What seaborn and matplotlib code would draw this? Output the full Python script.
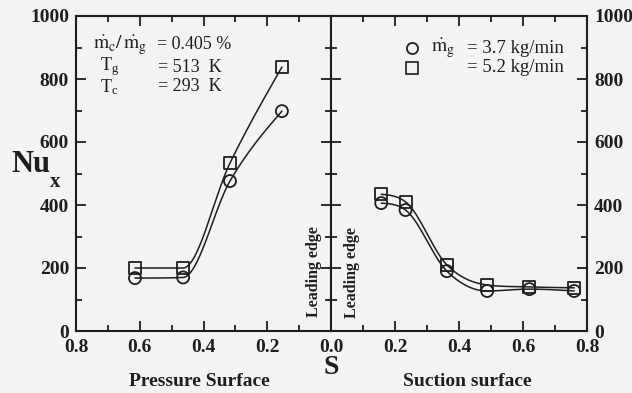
import numpy as np
import pandas as pd
import seaborn as sns
import matplotlib.pyplot as plt
from matplotlib.ticker import MultipleLocator

# Pressure surface (left panel), S distance from leading edge
s_pressure = [0.615, 0.464, 0.317, 0.154]
nu_p_37 = [168, 170, 476, 698]
nu_p_52 = [200, 200, 533, 838]

# Suction surface (right panel)
s_suction = [0.157, 0.233, 0.362, 0.488, 0.62, 0.76]
nu_s_37 = [406, 384, 190, 127, 133, 127]
nu_s_52 = [434, 410, 210, 146, 140, 137]

flows = ['3.7', '5.2']
x_ticks = [0.0, 0.2, 0.4, 0.6, 0.8]
y_ticks = [0, 200, 400, 600, 800, 1000]

ink = '#1e1e1e'
paper = '#f3f3f1'


def smooth(x, y, n=150):
    # monotone Hermite curve through the measured points, only for drawing the line
    x = np.asarray(x, float)
    y = np.asarray(y, float)
    order = np.argsort(x)
    x, y = x[order], y[order]
    h = np.diff(x)
    d = np.diff(y) / h
    m = np.zeros_like(y)
    for k in range(1, len(x) - 1):
        if d[k - 1] * d[k] <= 0:
            m[k] = 0.0
        else:
            mk = (h[k] * d[k - 1] + h[k - 1] * d[k]) / (h[k - 1] + h[k])
            lim = 3 * min(abs(d[k - 1]), abs(d[k]))
            m[k] = np.sign(mk) * min(abs(mk), lim)
    # free ends
    m[0] = (3 * d[0] - m[1]) / 2
    m[-1] = (3 * d[-1] - m[-2]) / 2
    if m[0] * d[0] < 0:
        m[0] = 0.0
    if m[-1] * d[-1] < 0:
        m[-1] = 0.0
    xs = np.linspace(x[0], x[-1], n)
    idx = np.clip(np.searchsorted(x, xs) - 1, 0, len(x) - 2)
    t = (xs - x[idx]) / h[idx]
    h00 = 2 * t**3 - 3 * t**2 + 1
    h10 = t**3 - 2 * t**2 + t
    h01 = -2 * t**3 + 3 * t**2
    h11 = t**3 - t**2
    ys = h00 * y[idx] + h10 * h[idx] * m[idx] + h01 * y[idx + 1] + h11 * h[idx] * m[idx + 1]
    return xs, ys


sns.set_theme(style='ticks')
plt.rcParams['font.family'] = ['Liberation Serif', 'DejaVu Serif']
plt.rcParams['mathtext.fontset'] = 'stix'

fig = plt.figure(figsize=(6.32, 3.93), dpi=100, facecolor=paper)
ax1 = fig.add_axes([76 / 632, 62 / 393, 255 / 632, 315 / 393])
ax2 = fig.add_axes([331 / 632, 62 / 393, 256 / 632, 315 / 393])

panels = [
    (ax1, s_pressure, [nu_p_37, nu_p_52]),
    (ax2, s_suction, [nu_s_37, nu_s_52]),
]

for ax, s, series in panels:
    ax.set_facecolor(paper)
    rows = []
    for flow, vals in zip(flows, series):
        xs, ys = smooth(s, vals)
        ax.plot(xs, ys, color=ink, lw=1.1, zorder=2)
        rows += [{'S': a, 'Nu': b, 'flow': flow} for a, b in zip(s, vals)]
    df = pd.DataFrame(rows)
    sns.scatterplot(data=df, x='S', y='Nu', style='flow', markers={'3.7': 'o', '5.2': 's'},
                    color=ink, s=75, linewidth=1.3, legend=False, ax=ax, zorder=3)
    for c in ax.collections:
        c.set_facecolor('none')
        c.set_edgecolor(ink)
    ax.set_ylim(0, 1000)
    ax.set_xlabel('')
    ax.set_ylabel('')
    for sp in ax.spines.values():
        sp.set_visible(True)
        sp.set_color(ink)
        sp.set_linewidth(1.5)
    ax.xaxis.set_minor_locator(MultipleLocator(0.1))
    ax.yaxis.set_minor_locator(MultipleLocator(100))
    ax.tick_params(which='both', direction='in', top=True, bottom=True, left=True, right=True,
                   color=ink, width=1.3)
    ax.tick_params(which='major', length=7, labelsize=14, labelcolor=ink)
    ax.tick_params(axis='x', which='major', pad=6)
    ax.tick_params(axis='y', which='major', pad=5)
    ax.tick_params(which='minor', length=4)

ax1.set_xlim(0.8, 0.0)
ax1.set_xticks(x_ticks)
ax1.set_xticklabels(['' if v == 0 else f'{v:.1f}' for v in x_ticks], fontweight='bold')
ax1.set_yticks(y_ticks)
ax1.set_yticklabels([str(v) for v in y_ticks], fontweight='bold')
ax1.tick_params(axis='y', labelleft=True, labelright=False)

ax2.set_xlim(0.0, 0.8)
ax2.set_xticks(x_ticks)
ax2.set_xticklabels([f'{v:.1f}' for v in x_ticks], fontweight='bold')
ax2.set_yticks(y_ticks)
ax2.set_yticklabels([str(v) for v in y_ticks], fontweight='bold')
ax2.tick_params(axis='y', labelleft=False, labelright=True)

# conditions box
ax1.text(0.067, 0.908, r'$\dot{\mathrm{m}}_\mathrm{c}/\,\dot{\mathrm{m}}_\mathrm{g}$',
         transform=ax1.transAxes, fontsize=14, va='center', color=ink)
ax1.text(0.318, 0.908, '= 0.405 %', transform=ax1.transAxes, fontsize=13, va='center', color=ink)
ax1.text(0.094, 0.838, r'T$_\mathregular{g}$', transform=ax1.transAxes, fontsize=13,
         va='center', color=ink)
ax1.text(0.322, 0.838, '= 513  K', transform=ax1.transAxes, fontsize=13, va='center', color=ink)
ax1.text(0.094, 0.775, r'T$_\mathregular{c}$', transform=ax1.transAxes, fontsize=13,
         va='center', color=ink)
ax1.text(0.322, 0.775, '= 293  K', transform=ax1.transAxes, fontsize=13, va='center', color=ink)

# legend for mass flow
ax2.plot([0.316], [0.898], marker='o', ms=8, mfc='none', mec=ink, mew=1.3,
         transform=ax2.transAxes, ls='none')
ax2.plot([0.316], [0.835], marker='s', ms=8, mfc='none', mec=ink, mew=1.2,
         transform=ax2.transAxes, ls='none')
ax2.text(0.39, 0.898, r'$\dot{\mathrm{m}}_\mathrm{g}$', transform=ax2.transAxes, fontsize=14,
         va='center', color=ink)
ax2.text(0.53, 0.898, '= 3.7 kg/min', transform=ax2.transAxes, fontsize=13.5, va='center', color=ink)
ax2.text(0.53, 0.835, '= 5.2 kg/min', transform=ax2.transAxes, fontsize=13.5, va='center', color=ink)

# leading edge marks
ax1.text(0.935, 0.19, 'Leading edge', transform=ax1.transAxes, rotation=90, fontsize=11.5,
         fontweight='bold', ha='center', va='center', color=ink)
ax2.text(0.082, 0.184, 'Leading edge', transform=ax2.transAxes, rotation=90, fontsize=11.5,
         fontweight='bold', ha='center', va='center', color=ink)

# axis titles
fig.text(11 / 632, 1 - 165 / 393, 'Nu', fontsize=22, fontweight='bold', va='center', color=ink)
fig.text(50 / 632, 1 - 182 / 393, 'x', fontsize=15, fontweight='bold', va='center', color=ink)
fig.text(331 / 632, 1 - 367 / 393, 'S', fontsize=20, fontweight='bold', ha='center',
         va='center', color=ink)
fig.text(199 / 632, 1 - 382 / 393, 'Pressure Surface', fontsize=14, fontweight='bold',
         ha='center', va='center', color=ink)
fig.text(467 / 632, 1 - 382 / 393, 'Suction surface', fontsize=14, fontweight='bold',
         ha='center', va='center', color=ink)

fig.savefig('out.png', dpi=100, facecolor=paper)
